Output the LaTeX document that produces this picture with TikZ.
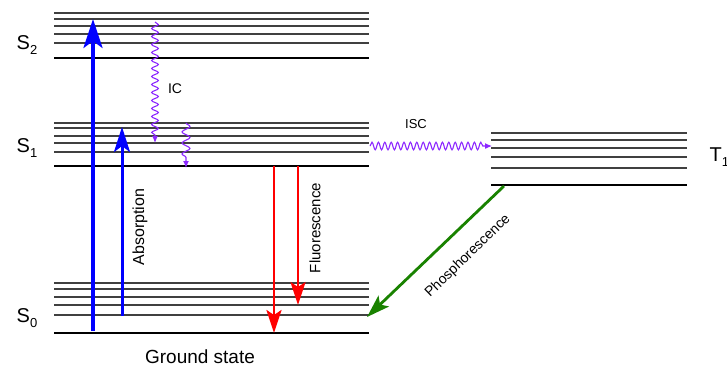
\documentclass[tikz,border=0pt]{standalone}
\usepackage{fontspec}
\setmainfont{Liberation Sans}
\usetikzlibrary{arrows.meta,decorations.pathmorphing}
\definecolor{icviolet}{RGB}{140,40,255}
\definecolor{phgreen}{RGB}{25,130,0}
\newcommand{\statelabel}[2]{#1\raisebox{-0.4ex}{\fontsize{13}{13}\selectfont #2}}
\tikzset{
  sublevel/.style={line width=1.5pt, color=black!75},
  baselevel/.style={line width=2.4pt, color=black},
  bigtip/.style={-{Stealth[length=29pt, width=19pt, inset=7pt]}},
  midtip/.style={-{Stealth[length=23pt, width=15pt, inset=5pt]}},
  wavy/.style={color=icviolet, line width=1.1pt, -{Latex[length=7pt, width=6pt]}, decorate},
}
\begin{document}
\begin{tikzpicture}[x=1pt, y=-1pt]
			\useasboundingbox (0, 0) rectangle (727, 368);
			%%%%% LEVELS %%%%%
			
			% S2
			\draw[sublevel] (54, 13) -- (369, 13);
			\draw[sublevel] (54, 19) -- (369, 19);
			\draw[sublevel] (54, 26) -- (369, 26);
			\draw[sublevel] (54, 34) -- (369, 34);
			\draw[sublevel] (54, 43) -- (369, 43);
			\draw[baselevel] (54, 58) -- (369, 58);
			
			% S1
			\draw[sublevel] (54, 123) -- (369, 123);
			\draw[sublevel] (54, 128) -- (369, 128);
			\draw[sublevel] (54, 136) -- (369, 136);
			\draw[sublevel] (54, 143) -- (369, 143);
			\draw[sublevel] (54, 152) -- (369, 152);
			\draw[baselevel] (54, 166) -- (369, 166);
			
			% S0
			\draw[sublevel] (54, 283) -- (369, 283);
			\draw[sublevel] (54, 289) -- (369, 289);
			\draw[sublevel] (54, 297) -- (369, 297);
			\draw[sublevel] (54, 305) -- (369, 305);
			\draw[sublevel] (54, 315) -- (369, 315);
			\draw[baselevel] (54, 333) -- (369, 333);
			
			% T1
			\draw[sublevel] (491, 133) -- (687, 133);
			\draw[sublevel] (491, 140) -- (687, 140);
			\draw[sublevel] (491, 148) -- (687, 148);
			\draw[sublevel] (491, 157) -- (687, 157);
			\draw[sublevel] (491, 168) -- (687, 168);
			\draw[baselevel] (491, 185) -- (687, 185);
			
			%%%%% LABELS %%%%%
			\node[font=\fontsize{20}{20}\selectfont] (labS2) at (27, 45) {\statelabel{S}{2}};
			\node[font=\fontsize{20}{20}\selectfont] (labS1) at (27, 148) {\statelabel{S}{1}};
			\node[font=\fontsize{20}{20}\selectfont] (labS0) at (27, 318) {\statelabel{S}{0}};
			\node[font=\fontsize{20}{20}\selectfont, anchor=west] (labT1) at (706, 157) {\statelabel{T}{1}};
			\node[font=\fontsize{19}{19}\selectfont] (ground) at (200, 357) {Ground state};
			
			%%%%% ABSORPTION %%%%%
			\coordinate (absAbot) at (93, 331);
			\coordinate (absAtop) at (93, 19);
			\coordinate (absBbot) at (122, 316);
			\coordinate (absBtop) at (122, 127);
			\draw[bigtip, line width=3.6pt, color=blue] (absAbot) -- (absAtop);
			\draw[-{Stealth[length=25pt, width=16pt, inset=6pt]}, line width=3pt, color=blue] (absBbot) -- (absBtop);
			\node[rotate=90, font=\fontsize{16}{16}\selectfont] (absorption) at (140, 227) {Absorption};
			
			%%%%% INTERNAL CONVERSION %%%%%
			\coordinate (icAtop) at (155, 22);
			\coordinate (icAbot) at (155, 143);
			\coordinate (icBtop) at (186, 123);
			\coordinate (icBbot) at (186, 168);
			\draw[wavy, decoration={snake, amplitude=3.3pt, segment length=8pt, post length=7pt}] (icAtop) -- (icAbot);
			\draw[wavy, decoration={snake, amplitude=4pt, segment length=11pt, post length=7pt}] (icBtop) -- (icBbot);
			\node[font=\fontsize{14}{14}\selectfont] (ic) at (175, 89) {IC};
			
			%%%%% FLUORESCENCE %%%%%
			\coordinate (flAtop) at (274, 166);
			\coordinate (flAbot) at (274, 333);
			\coordinate (flBtop) at (298, 166);
			\coordinate (flBbot) at (298, 305);
			\draw[midtip, line width=2.6pt, color=red] (flAtop) -- (flAbot);
			\draw[midtip, line width=2.2pt, color=red] (flBtop) -- (flBbot);
			\node[rotate=90, font=\fontsize{15}{15}\selectfont] (fluorescence) at (315, 228) {Fluorescence};
			
			%%%%% INTERSYSTEM CROSSING %%%%%
			\coordinate (iscstart) at (370, 146);
			\coordinate (iscend) at (492, 146);
			\draw[wavy, decoration={snake, amplitude=3.8pt, segment length=6.4pt, post length=7pt}] (iscstart) -- (iscend);
			\node[font=\fontsize{13}{13}\selectfont] (isc) at (416, 124) {ISC};
			
			%%%%% PHOSPHORESCENCE %%%%%
			\coordinate (phstart) at (504, 186);
			\coordinate (phend) at (367, 317);
			\draw[midtip, line width=2.8pt, color=phgreen] (phstart) -- (phend);
			\node[rotate=44, font=\fontsize{14}{14}\selectfont] (phosphorescence) at (468, 256) {Phosphorescence};
			
		\end{tikzpicture}
\end{document}
